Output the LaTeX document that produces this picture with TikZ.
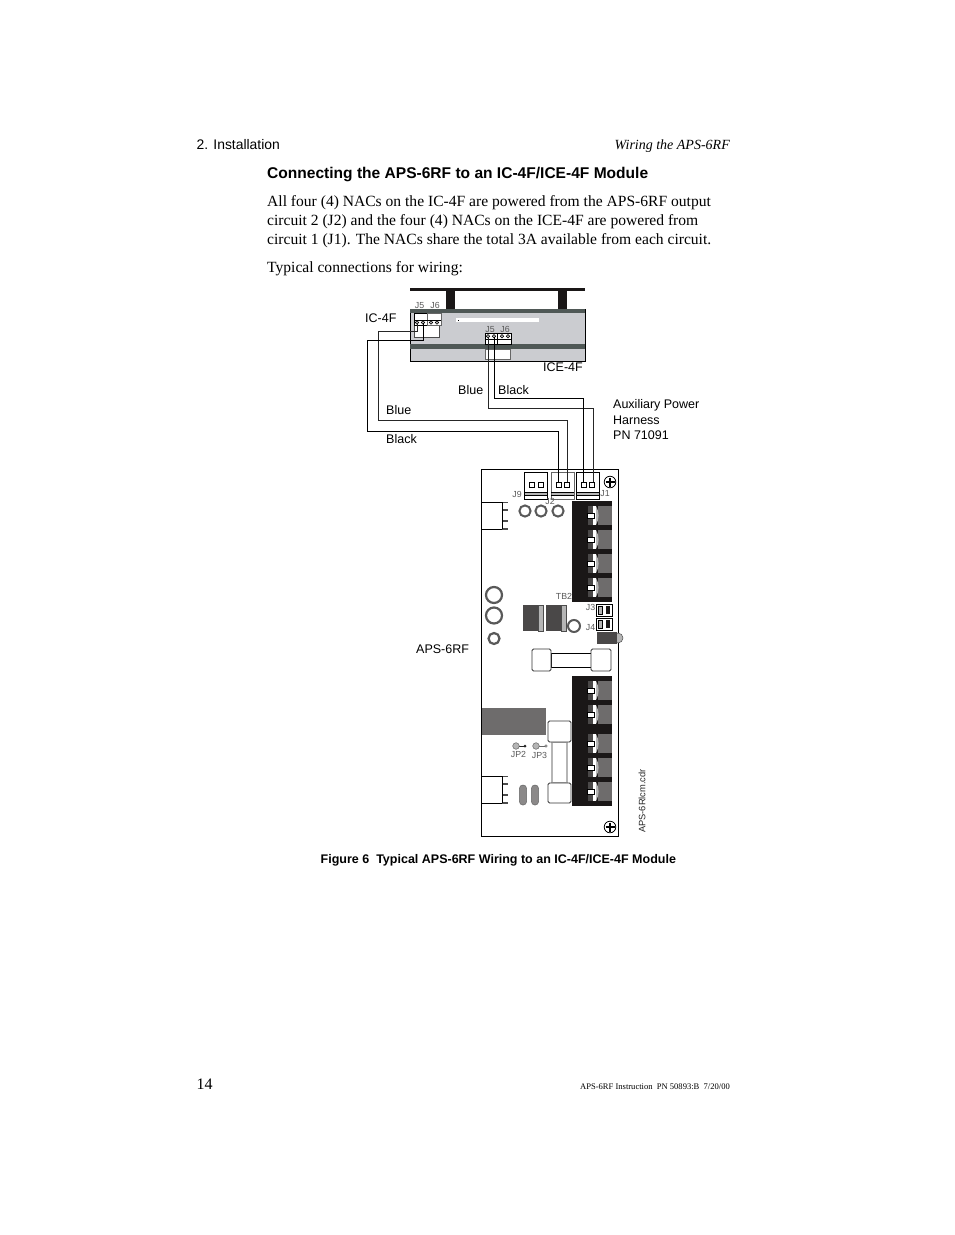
\documentclass[tikz,border=0pt]{standalone}
\usepackage{fontspec}
\setmainfont{Liberation Serif}
\setsansfont{Liberation Sans}
\definecolor{dk}{HTML}{1A1717}
\definecolor{band}{HTML}{4F5856}
\definecolor{body}{HTML}{CBCCD0}
\definecolor{tg}{HTML}{4A4848}
\definecolor{mg}{HTML}{6E6C6C}
\definecolor{lg}{HTML}{B5B5B5}
\tikzset{
 x=1pt,y=-1pt,
 txt/.style={inner sep=0pt,anchor=base west,align=left},
 bodytxt/.style={txt,font=\fontsize{15.57}{19}\selectfont},
 lab/.style={txt,font=\sffamily\fontsize{12.5}{15}\selectfont},
 small/.style={inner sep=0pt,anchor=base,text=black!65,font=\sffamily\fontsize{8.8}{9}\selectfont},
 wire/.style={line width=1pt,draw=black,line join=miter},
 bluew/.style={line width=1pt,draw=black!85,line join=miter},
 box/.style={draw=black,line width=.8pt,fill=white},
 gbox/.style={draw=black!60,line width=1pt,fill=white},
 ring/.style={draw=black!65,line width=2pt,fill=white},
}
\newcommand{\termunit}[1]{%
 \fill[mg] (598,#1) rectangle (611.5,#1+19);
 \fill[tg] (588,#1) rectangle (593,#1+19);
 \fill[white] (593,#1) rectangle (596,#1+19);
 \fill[lg] (596,#1) .. controls (599.5,#1+6) and (599.5,#1+13) .. (596,#1+19) -- cycle;
 \draw[fill=white,line width=.6pt] (587.5,#1+7) rectangle (594.5,#1+12.5);
}
\newcommand{\jack}[2]{%
 \draw[#2] (#1,472) rectangle (#1+23,499);
 \fill[lg] (#1+.5,492) rectangle (#1+22.5,495);
 \draw[draw=black,line width=.6pt] (#1,492) -- (#1+23,492) (#1,495) -- (#1+23,495);
}
\newcommand{\hole}[1]{\draw[draw=black,line width=.8pt,fill=white] (#1,482) rectangle (#1+5,487);}
\begin{document}
\begin{tikzpicture}
\useasboundingbox (0,0) rectangle (954,1235);
\fill[white] (0,0) rectangle (954,1235);
% page text
\node[txt,font=\sffamily\fontsize{13.9}{15}\selectfont] (hdrL) at (196.5,149.5) {2. Installation};
\node[inner sep=0pt,anchor=base east,font=\itshape\fontsize{14}{15}\selectfont] (hdrR) at (730,149.5) {Wiring the APS-6RF};
\node[txt,font=\sffamily\bfseries\fontsize{15.55}{17}\selectfont] (title) at (267,178) {Connecting the APS-6RF to an IC-4F/ICE-4F Module};
\node[bodytxt] (l1) at (267,206) {All four (4) NACs on the IC-4F are powered from the APS-6RF output};
\node[bodytxt] (l2) at (267,225.3) {circuit 2 (J2) and the four (4) NACs on the ICE-4F are powered from};
\node[bodytxt] (l3) at (267,244.6) {circuit 1 (J1). The NACs share the total 3A available from each circuit.};
\node[bodytxt] (l4) at (267,272.3) {Typical connections for wiring:};
\node[txt,font=\sffamily\bfseries\fontsize{12.5}{14}\selectfont] (cap) at (320.5,863) {Figure 6\ \ Typical APS-6RF Wiring to an IC-4F/ICE-4F Module};
\node[bodytxt,font=\fontsize{16}{19}\selectfont] (pg) at (196.5,1089) {14};
\node[inner sep=0pt,anchor=base east,font=\fontsize{8.55}{12}\selectfont] (foot) at (730,1089) {APS-6RF Instruction\ \ PN 50893:B\ \ 7/20/00};
% module
\fill[dk] (410,288) rectangle (585,291);
\fill[dk] (446,291) rectangle (455,309);
\fill[dk] (558,291) rectangle (567,309);
\draw[fill=body,draw=black,line width=.7pt] (410,309) rectangle (585,361);
\fill[band] (410,309) rectangle (585,313);
\fill[band] (410,344) rectangle (585,349);
\fill[white] (456,318) rectangle (539,322);
\fill[black] (458,319.5) rectangle (459,320.5);
% IC connectors
\draw[draw=black!70,line width=.9pt,fill=white] (414,325) rectangle (439,337);
\draw[box] (414,313) rectangle (427,325);
\draw[draw=black!60,line width=.9pt,fill=white] (427,313) rectangle (441,325);
\draw[black,line width=.6pt] (414,320) -- (441,320);
\foreach \x in {417,423,431,437}{\draw[fill=lg,line width=.5pt] (\x,322.5) circle[radius=1.7];}
% ICE connectors
\draw[gbox] (485,349) rectangle (510,359);
\draw[box] (485,333) rectangle (497,344);
\draw[box] (497,333) rectangle (511,344);
\draw[black,line width=.6pt] (485,339) -- (511,339);
\foreach \x in {488,494,502,508}{\draw[fill=lg,line width=.5pt] (\x,336.2) circle[radius=1.7];}
\node[small] (tJ5a) at (419.5,308) {J5};
\node[small] (tJ6a) at (435,308) {J6};
\node[small] (tJ5b) at (490,332) {J5};
\node[small] (tJ6b) at (505,332) {J6};
% labels
\node[lab] (lIC) at (365,322) {IC-4F};
\node[lab] (lICE) at (543,371.5) {ICE-4F};
\node[lab] (lB1) at (458,394) {Blue};
\node[lab] (lK1) at (498,394) {Black};
\node[lab] (lB2) at (386,414) {Blue};
\node[lab] (lK2) at (386,443) {Black};
\node[lab] (aux1) at (613,408) {Auxiliary Power};
\node[lab] (aux2) at (613,424) {Harness};
\node[lab] (aux3) at (613,439) {PN 71091};
\node[lab] (lAPS) at (416,653) {APS-6RF};
% board
\draw[draw=black,line width=.9pt,fill=white] (481,469) rectangle (618,836);
\jack{524}{draw=black,line width=.8pt,fill=white}
\jack{551}{gbox}
\jack{576}{draw=black,line width=.8pt,fill=white}
\hole{529}\hole{538}\hole{556}\hole{564}\hole{581}\hole{589}
% wires (named ends)
\coordinate (icA) at (417,323); \coordinate (icB) at (423,323);
\coordinate (iceA) at (488,337); \coordinate (iceB) at (494,337);
\coordinate (j2a) at (558,482); \coordinate (j2b) at (567,482);
\coordinate (j1a) at (583.5,482); \coordinate (j1b) at (593,482);
\coordinate (c1) at (417,331); \coordinate (c2) at (378,331); \coordinate (c3) at (378,420); \coordinate (c4) at (567,420);
\coordinate (d1) at (423,340); \coordinate (d2) at (367,340); \coordinate (d3) at (367,431); \coordinate (d4) at (558,431);
\coordinate (e1) at (488,408); \coordinate (e2) at (593,408);
\coordinate (f1) at (494,398); \coordinate (f2) at (583.5,398);
\draw[bluew] (icA) -- (c1) -- (c2) -- (c3) -- (c4) -- (j2b);
\draw[wire] (icB) -- (d1) -- (d2) -- (d3) -- (d4) -- (j2a);
\draw[bluew] (iceA) -- (e1) -- (e2) -- (j1b);
\draw[wire] (iceB) -- (f1) -- (f2) -- (j1a);
% board small labels
\node[small] (tJ9) at (517,497) {J9};
\node[small] (tJ2) at (550,504) {J2};
\node[small] (tJ1) at (605,496) {J1};
\node[small] (tTB) at (564,599) {TB2};
\node[small] (tJ3) at (590.5,610) {J3};
\node[small] (tJ4) at (590.5,630) {J4};
\node[small] (tJP2) at (518.5,757.5) {JP2};
\node[small] (tJP3) at (539.5,758) {JP3};
% screws
\foreach \y in {482,827}{
 \draw[draw=black,line width=.8pt,fill=white] (610,\y) circle[radius=5.8];
 \draw[line width=1.1pt] (605.5,\y) -- (614.5,\y) (610,\y-4.5) -- (610,\y+4.5);
}
% left connectors
\foreach \y in {502,776}{
 \draw[draw=black,line width=.7pt,fill=white] (481,\y) rectangle (502,\y+27);
 \fill[black!70] (502,\y-.5) rectangle (508,\y+1);
 \fill[black!70] (502,\y+26) rectangle (508,\y+27.5);
 \fill[black!70] (502,\y+7) rectangle (508,\y+9);
 \fill[black!70] (502,\y+18) rectangle (508,\y+20);
 \draw[black,line width=.7pt] (502,\y) -- (502,\y+27);
}
% rings
\draw[ring] (525,511) circle[radius=5.6];
\draw[ring] (541,511) circle[radius=5.6];
\draw[ring] (558,511) circle[radius=5.6];
\draw[ring,line width=2.2pt] (494,595) circle[radius=8];
\draw[ring,line width=2.2pt] (494,615.5) circle[radius=8];
\draw[ring,line width=2.2pt] (494,638.5) circle[radius=5.5];
\draw[ring] (574,626) circle[radius=6];
% terminal blocks
\fill[dk] (572,501) rectangle (612,602);
\foreach \y in {506,530,554,578}{\termunit{\y}}
\fill[dk] (572,676) rectangle (612,806);
\foreach \y in {681,705,734,758,782}{\termunit{\y}}
% big parts
\fill[tg] (523,605) rectangle (538,631);
\draw[fill=lg,draw=black!70,line width=.5pt] (538,605) rectangle (543,631);
\fill[tg] (546,605) rectangle (561,631);
\draw[fill=lg,draw=black!70,line width=.5pt] (561,605) rectangle (566,631);
% J3 J4
\foreach \y in {604,618}{
 \draw[draw=black,line width=.6pt,fill=white] (596,\y) rectangle (612,\y+12);
 \draw[line width=.5pt,fill=lg] (598,\y+2) rectangle (602,\y+10);
 \fill[dk] (606,\y+2) rectangle (610,\y+10);
}
% LED
\draw[fill=lg,draw=black!70,line width=.5pt] (618,638) circle[radius=5];
\fill[tg] (597,632) rectangle (617,644);
% upper fuse
\draw[draw=black,line width=.8pt,fill=white] (551,653) rectangle (591,667);
\draw[draw=black!80,line width=.9pt,fill=white,rounded corners=1.5pt] (532,649) rectangle (551,671);
\draw[draw=black!80,line width=.9pt,fill=white,rounded corners=1.5pt] (591,649) rectangle (611,671);
% gray rect
\fill[mg] (482,708) rectangle (546,735);
% lower fuse
\draw[draw=lg,line width=1.3pt,fill=white] (552,742) rectangle (567,783);
\draw[draw=black!80,line width=.9pt,fill=white,rounded corners=1.5pt] (548,721) rectangle (571,742);
\draw[draw=black!80,line width=.9pt,fill=white,rounded corners=1.5pt] (548,783) rectangle (571,803);
% jumpers
\draw[line width=1pt,black!85] (516,746) -- (525,746);
\fill[black!85] (525,746) circle[radius=1.5];
\draw[fill=lg,draw=black!60,line width=.5pt] (516,746) circle[radius=3.3];
\draw[line width=.5pt,black!60] (536,746) -- (546,746);
\draw[fill=white,draw=black!60,line width=.5pt] (546,746) circle[radius=1.2];
\draw[fill=lg,draw=black!60,line width=.5pt] (536,746) circle[radius=3.3];
% ovals
\draw[fill=mg!80,draw=black!60,line width=.5pt,rounded corners=3.4pt] (519.4,785) rectangle (526.6,805);
\draw[fill=mg!80,draw=black!60,line width=.5pt,rounded corners=3.4pt] (531.4,785) rectangle (538.6,805);
% rotated file name
\node[inner sep=0pt,rotate=90,anchor=center,text=black!85,font=\sffamily\fontsize{9.3}{10}\selectfont] (fname) at (642,801) {APS-6Rlcm.cdr};
\end{tikzpicture}
\end{document}
